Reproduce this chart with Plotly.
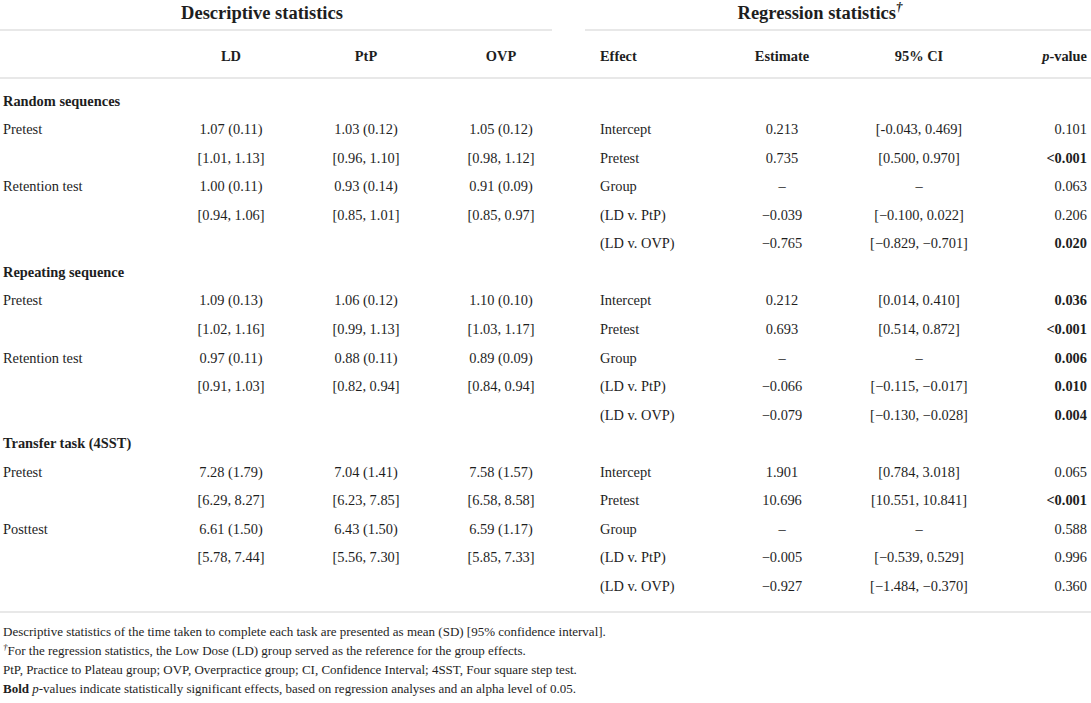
import plotly.graph_objects as go

# --- descriptive statistics (mean, SD, 95% CI) per section: pretest row, retention/posttest row ---
sections = ['Random sequences', 'Repeating sequence', 'Transfer task (4SST)']
row_labels = [['Pretest', 'Retention test'], ['Pretest', 'Retention test'], ['Pretest', 'Posttest']]
groups = ['LD', 'PtP', 'OVP']

ld_mean = [1.07, 1.00, 1.09, 0.97, 7.28, 6.61]
ld_sd = [0.11, 0.11, 0.13, 0.11, 1.79, 1.50]
ld_ci = [(1.01, 1.13), (0.94, 1.06), (1.02, 1.16), (0.91, 1.03), (6.29, 8.27), (5.78, 7.44)]

ptp_mean = [1.03, 0.93, 1.06, 0.88, 7.04, 6.43]
ptp_sd = [0.12, 0.14, 0.12, 0.11, 1.41, 1.50]
ptp_ci = [(0.96, 1.10), (0.85, 1.01), (0.99, 1.13), (0.82, 0.94), (6.23, 7.85), (5.56, 7.30)]

ovp_mean = [1.05, 0.91, 1.10, 0.89, 7.58, 6.59]
ovp_sd = [0.12, 0.09, 0.10, 0.09, 1.57, 1.17]
ovp_ci = [(0.98, 1.12), (0.85, 0.97), (1.03, 1.17), (0.84, 0.94), (6.58, 8.58), (5.85, 7.33)]

# --- regression statistics, five effects per section ---
effects = ['Intercept', 'Pretest', 'Group', '(LD v. PtP)', '(LD v. OVP)']
estimates = [
    ['0.213', '0.735', '–', '−0.039', '−0.765'],
    ['0.212', '0.693', '–', '−0.066', '−0.079'],
    ['1.901', '10.696', '–', '−0.005', '−0.927'],
]
reg_ci = [
    ['[-0.043, 0.469]', '[0.500, 0.970]', '–', '[−0.100, 0.022]', '[−0.829, −0.701]'],
    ['[0.014, 0.410]', '[0.514, 0.872]', '–', '[−0.115, −0.017]', '[−0.130, −0.028]'],
    ['[0.784, 3.018]', '[10.551, 10.841]', '–', '[−0.539, 0.529]', '[−1.484, −0.370]'],
]
p_values = [
    ['0.101', '<0.001', '0.063', '0.206', '0.020'],
    ['0.036', '<0.001', '0.006', '0.010', '0.004'],
    ['0.065', '<0.001', '0.588', '0.996', '0.360'],
]
alpha = 0.05

footnotes = [
    'Descriptive statistics of the time taken to complete each task are presented as mean (SD) [95% confidence interval].',
    '<sup><i>†</i></sup>For the regression statistics, the Low Dose (LD) group served as the reference for the group effects.',
    'PtP, Practice to Plateau group; OVP, Overpractice group; CI, Confidence Interval; 4SST, Four square step test.',
    '<b>Bold</b> <i>p</i>-values indicate statistically significant effects, based on regression analyses and an alpha level of 0.05.',
]

# --- layout constants (pixel-like coordinates) ---
W, H = 1091, 703
FONT = 'Liberation Serif'
INK = '#1e1e1e'
RULE = '#d2d2d2'
BODY = 14.4
col_x = {'label': 3, 'LD': 231, 'PtP': 366, 'OVP': 501,
         'effect': 600, 'est': 782, 'ci': 919, 'p': 1087}
row_y0, row_step = 102, 28.55


def fmt_ms(m, s):
    return f'{m:.2f} ({s:.2f})'


def fmt_ci(c):
    return f'[{c[0]:.2f}, {c[1]:.2f}]'


cells = {k: ([], [], []) for k in col_x}  # x, y, text per column


def put(col, y, txt):
    cells[col][0].append(col_x[col])
    cells[col][1].append(y)
    cells[col][2].append(txt)


means = {'LD': (ld_mean, ld_sd, ld_ci), 'PtP': (ptp_mean, ptp_sd, ptp_ci), 'OVP': (ovp_mean, ovp_sd, ovp_ci)}

k = 0
for s, sec in enumerate(sections):
    put('label', row_y0 + k * row_step, f'<b>{sec}</b>')
    k += 1
    for r in range(5):
        y = row_y0 + (k + r) * row_step
        # descriptive side: rows 0,1 -> pretest; rows 2,3 -> retention/posttest
        if r < 4:
            i = s * 2 + r // 2
            if r % 2 == 0:
                put('label', y, row_labels[s][r // 2])
            for g in groups:
                m, sd, ci = means[g]
                put(g, y, fmt_ms(m[i], sd[i]) if r % 2 == 0 else fmt_ci(ci[i]))
        put('effect', y, effects[r])
        put('est', y, estimates[s][r])
        put('ci', y, reg_ci[s][r])
        p = p_values[s][r]
        put('p', y, f'<b>{p}</b>' if float(p.lstrip('<')) < alpha else p)
    k += 5

fig = go.Figure()

positions = {'label': 'middle right', 'effect': 'middle right', 'p': 'middle left'}
for col, (xs, ys, ts) in cells.items():
    fig.add_trace(go.Scatter(
        x=xs, y=ys, text=ts, mode='text',
        textposition=positions.get(col, 'middle center'),
        textfont=dict(family=FONT, size=BODY, color=INK),
        hoverinfo='skip', showlegend=False, cliponaxis=False,
    ))

# headers
hdr_x = [col_x[g] for g in groups] + [col_x['est'], col_x['ci']]
hdr_t = [f'<b>{g}</b>' for g in groups] + ['<b>Estimate</b>', '<b>95% CI</b>']
fig.add_trace(go.Scatter(x=hdr_x, y=[57] * len(hdr_x), text=hdr_t, mode='text',
                         textposition='middle center',
                         textfont=dict(family=FONT, size=BODY, color=INK),
                         hoverinfo='skip', showlegend=False, cliponaxis=False))
fig.add_trace(go.Scatter(x=[col_x['effect']], y=[57], text=['<b>Effect</b>'], mode='text',
                         textposition='middle right',
                         textfont=dict(family=FONT, size=BODY, color=INK),
                         hoverinfo='skip', showlegend=False, cliponaxis=False))
fig.add_trace(go.Scatter(x=[col_x['p']], y=[57], text=['<b><i>p</i>-value</b>'], mode='text',
                         textposition='middle left',
                         textfont=dict(family=FONT, size=BODY, color=INK),
                         hoverinfo='skip', showlegend=False, cliponaxis=False))
fig.add_trace(go.Scatter(x=[262, 820], y=[14, 14],
                         text=['<b>Descriptive statistics</b>', '<b>Regression statistics<sup><i>†</i></sup></b>'],
                         mode='text', textposition='middle center',
                         textfont=dict(family=FONT, size=18.5, color=INK),
                         hoverinfo='skip', showlegend=False, cliponaxis=False))

# footnotes
fig.add_trace(go.Scatter(x=[col_x['label']] * len(footnotes), y=[633, 652, 671, 690],
                         text=footnotes, mode='text', textposition='middle right',
                         textfont=dict(family=FONT, size=13, color=INK),
                         hoverinfo='skip', showlegend=False, cliponaxis=False))

rules = [(0, 552, 30), (585, W, 30), (0, W, 78), (0, W, 612)]
for x0, x1, y in rules:
    fig.add_shape(type='line', x0=x0, x1=x1, y0=y, y1=y, xref='x', yref='y',
                  line=dict(color=RULE, width=1.2))

fig.update_layout(
    width=W, height=H,
    margin=dict(l=0, r=0, t=0, b=0),
    paper_bgcolor='white', plot_bgcolor='white',
    xaxis=dict(range=[0, W], visible=False, fixedrange=True),
    yaxis=dict(range=[H, 0], visible=False, fixedrange=True),
)

fig.write_html('out.html', config={'displayModeBar': False},
               post_script="document.body.style.margin='0';document.body.style.overflow='hidden';")
